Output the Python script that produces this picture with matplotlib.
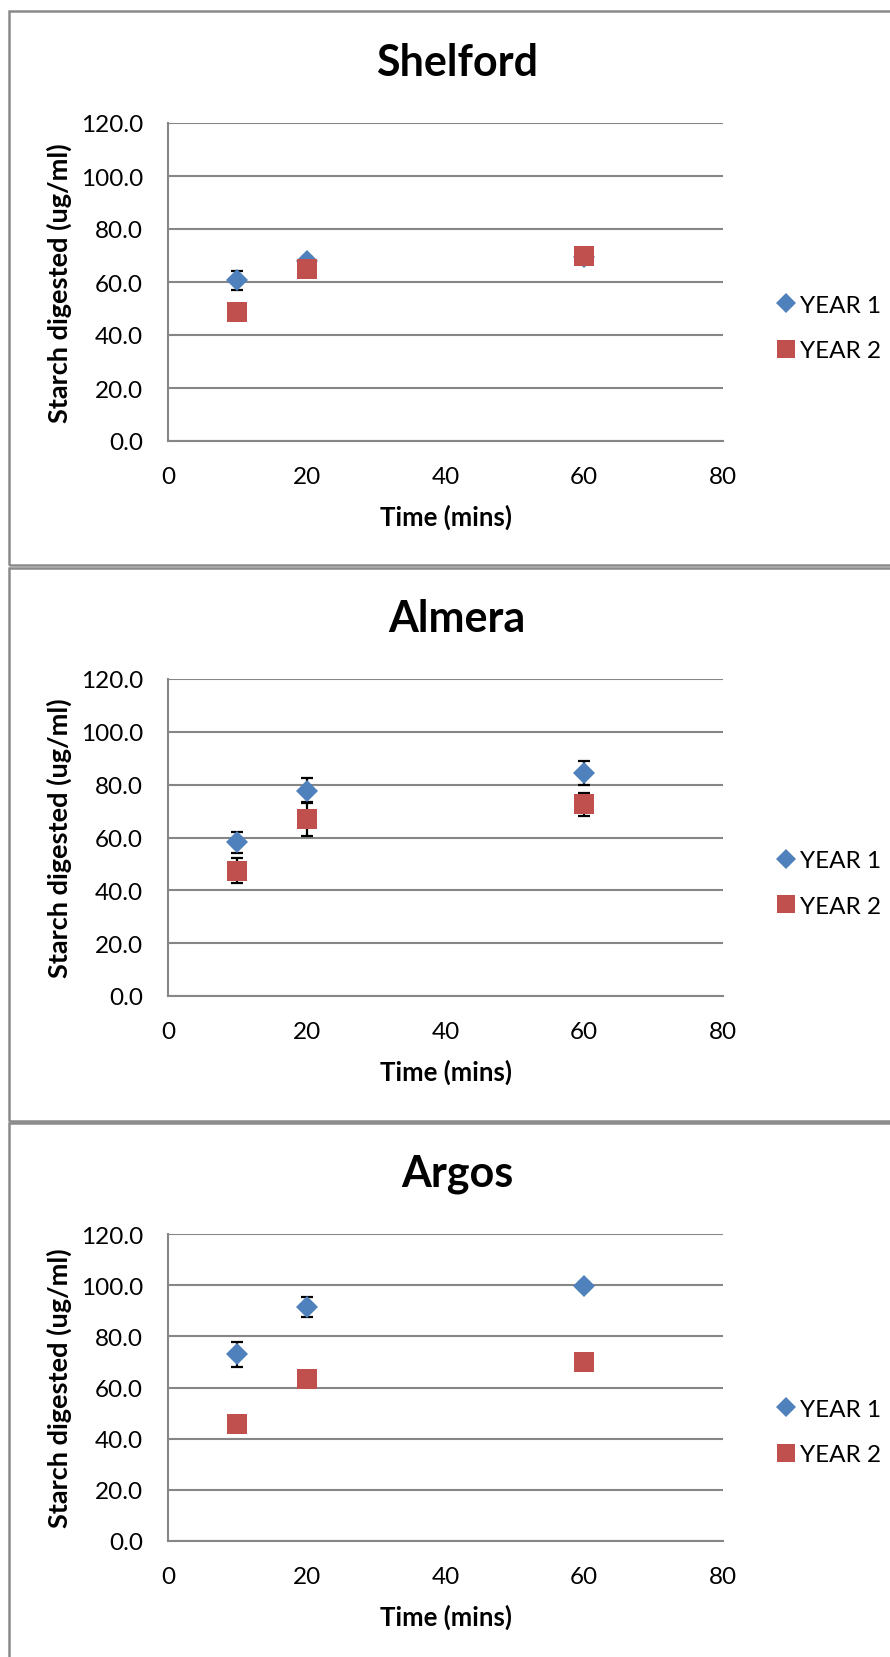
import matplotlib
matplotlib.use("Agg")
import matplotlib.pyplot as plt
from matplotlib.patches import Rectangle

plt.rcParams['font.family'] = ['Lato', 'DejaVu Sans']

varieties = ["Shelford", "Almera", "Argos"]
times = [10, 20, 60]

year1 = {
    "Shelford": [60.6, 67.8, 69.5],
    "Almera": [58.2, 77.7, 84.5],
    "Argos": [72.9, 91.3, 99.6],
}
year1_err = {
    "Shelford": [3.6, 1.5, 1.0],
    "Almera": [3.9, 4.7, 4.5],
    "Argos": [5.0, 3.9, 1.5],
}
year2 = {
    "Shelford": [48.7, 65.0, 69.8],
    "Almera": [47.5, 66.9, 72.6],
    "Argos": [45.8, 63.5, 70.1],
}
year2_err = {
    "Shelford": [1.0, 1.0, 1.0],
    "Almera": [4.8, 6.4, 4.3],
    "Argos": [1.0, 1.0, 1.0],
}

xticks = [0, 20, 40, 60, 80]
yticks = [0, 20, 40, 60, 80, 100, 120]

W, H = 890, 1658
BLUE = "#4F81BD"
RED = "#C0504D"
GRID = "#868686"

fig = plt.figure(figsize=(W / 100, H / 100), dpi=100)


def fx(x):
    return x / W


def fy(y):
    return 1 - y / H


# panel layout in pixels: frame top, frame bottom, axes top, axes bottom
panels = [
    (12, 566, 124, 442),
    (569, 1122, 680, 997),
    (1124, 1700, 1235, 1542),
]
ax_left, ax_right = 168, 723

for name, (ftop, fbot, atop, abot) in zip(varieties, panels):
    fig.patches.append(Rectangle((fx(9), fy(fbot)), fx(W + 20 - 9), (fbot - ftop) / H,
                                 transform=fig.transFigure, fill=False,
                                 edgecolor="#8a8a8a", linewidth=1.8))
    ax = fig.add_axes([fx(ax_left), fy(abot), (ax_right - ax_left) / W, (abot - atop) / H])

    ax.errorbar(times, year1[name], yerr=year1_err[name], fmt="none", ecolor="black",
                elinewidth=1.6, capsize=4.5, capthick=1.6, zorder=2)
    ax.errorbar(times, year2[name], yerr=year2_err[name], fmt="none", ecolor="black",
                elinewidth=1.6, capsize=4.5, capthick=1.6, zorder=2)
    ax.plot(times, year1[name], linestyle="none", marker="D", markersize=11,
            color=BLUE, markeredgewidth=0, label="YEAR 1", zorder=3)
    ax.plot(times, year2[name], linestyle="none", marker="s", markersize=14,
            color=RED, markeredgewidth=0, label="YEAR 2", zorder=4)

    ax.set_xlim(0, 80)
    ax.set_ylim(0, 120)
    ax.set_xticks(xticks)
    ax.set_yticks(yticks)
    ax.set_yticklabels([f"{v:.1f}" for v in yticks])
    ax.tick_params(length=0, labelsize=17.5, pad=18)
    ax.yaxis.grid(True, color=GRID, linewidth=1.5)
    ax.set_axisbelow(True)
    for s in ["top", "right"]:
        ax.spines[s].set_visible(False)
    for s in ["left", "bottom"]:
        ax.spines[s].set_color(GRID)
        ax.spines[s].set_linewidth(1.5)

    ax.set_xlabel("Time (mins)", fontsize=18.5, fontweight="bold", labelpad=12)
    ax.set_ylabel("Starch digested (ug/ml)", fontsize=19.5, fontweight="bold", labelpad=6)

    fig.text(fx(457), fy(atop - 61), name, fontsize=31, fontweight="bold",
             ha="center", va="center")

    ax.legend(loc="center left",
              bbox_to_anchor=(fx(774), fy(atop + 0.645 * (abot - atop))),
              bbox_transform=fig.transFigure, frameon=False, fontsize=17.5,
              borderpad=0, borderaxespad=0, handletextpad=0.05,
              labelspacing=1.0, handlelength=1.0, markerscale=0.9)

fig.savefig("out.png", dpi=100)
